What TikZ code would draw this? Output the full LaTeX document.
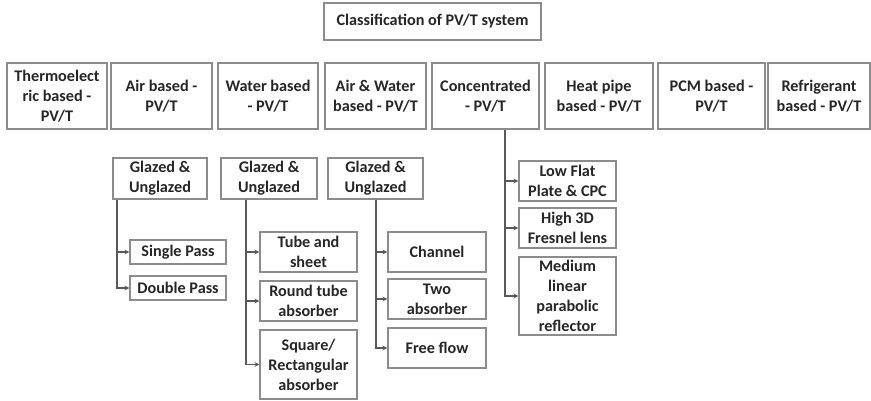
\documentclass[tikz,border=0pt]{standalone}
\usepackage{fontspec}
\setmainfont{Carlito}
\usepackage{tikz}

\begin{document}
\begin{tikzpicture}[%
      x=1pt, y=-1pt,
      box/.style={draw=black!45, line width=1.2pt, fill=white, align=center, inner sep=0pt,
        font=\bfseries\fontsize{16.2}{20}\selectfont, text=black!85},
      link/.style={color=black!65, line width=1.2pt, ->, >=stealth},
      ]
      \useasboundingbox (0,0) rectangle (871,401);

      \node[box, minimum width=217, minimum height=37] (title) at (432.5,21.5) {Classification of PV/T system};

      \node[box, minimum width=100, minimum height=66] (thermo) at (57,96) {Thermoelect\\ric based -\\PV/T};
      \node[box, minimum width=101, minimum height=66] (air) at (161.5,96) {Air based -\\PV/T};
      \node[box, minimum width=100, minimum height=66] (water) at (268,96) {Water based\\- PV/T};
      \node[box, minimum width=101, minimum height=66] (airwater) at (375.5,96) {Air \& Water\\based - PV/T};
      \node[box, minimum width=107, minimum height=66] (conc) at (485.5,96) {Concentrated\\- PV/T};
      \node[box, minimum width=108, minimum height=66] (heatpipe) at (599,96) {Heat pipe\\based - PV/T};
      \node[box, minimum width=107, minimum height=66] (pcm) at (711.5,96) {PCM based -\\PV/T};
      \node[box, minimum width=102, minimum height=66] (refrig) at (819,96) {Refrigerant\\based - PV/T};

      \node[box, minimum width=94, minimum height=41] (glazedA) at (160,178.5) {Glazed \&\\Unglazed};
      \node[box, minimum width=96, minimum height=41] (glazedW) at (269,178.5) {Glazed \&\\Unglazed};
      \node[box, minimum width=95, minimum height=41] (glazedAW) at (375.5,178.5) {Glazed \&\\Unglazed};

      \node[box, minimum width=96, minimum height=24] (single) at (178,252) {Single Pass};
      \node[box, minimum width=96, minimum height=24] (double) at (178,288) {Double Pass};

      \node[box, minimum width=97, minimum height=40] (tube) at (308.5,252) {Tube and\\sheet};
      \node[box, minimum width=97, minimum height=40] (round) at (308.5,301) {Round tube\\absorber};
      \node[box, minimum width=97, minimum height=69] (square) at (308.5,364.5) {Square/\\Rectangular\\absorber};

      \node[box, minimum width=98, minimum height=40] (channel) at (437,252) {Channel};
      \node[box, minimum width=98, minimum height=40] (twoabs) at (437,299) {Two\\absorber};
      \node[box, minimum width=98, minimum height=40] (freeflow) at (437,348) {Free flow};

      \node[box, minimum width=97, minimum height=40] (lowflat) at (567.5,181) {Low Flat\\Plate \& CPC};
      \node[box, minimum width=97, minimum height=40] (high3d) at (567.5,228) {High 3D\\Fresnel lens};
      \node[box, minimum width=97, minimum height=78] (medium) at (567.5,296) {Medium\\linear\\parabolic\\reflector};

      % trunks
      \coordinate (tA) at (glazedA.south west -| 117,0);
      \coordinate (tW) at (glazedW.south west -| 246,0);
      \coordinate (tAW) at (glazedAW.south west -| 376,0);
      \coordinate (tC) at (conc.south -| 505,0);

      \draw[link] (tA) |- (single.west);
      \draw[link] (tA) |- (double.west);
      \draw[link] (tW) |- (tube.west);
      \draw[link] (tW) |- (round.west);
      \draw[link] (tW) |- (square.west);
      \draw[link] (tAW) |- (channel.west);
      \draw[link] (tAW) |- (twoabs.west);
      \draw[link] (tAW) |- (freeflow.west);
      \draw[link] (tC) |- (lowflat.west);
      \draw[link] (tC) |- (high3d.west);
      \draw[link] (tC) |- (medium.west);
      \end{tikzpicture}
\end{document}
